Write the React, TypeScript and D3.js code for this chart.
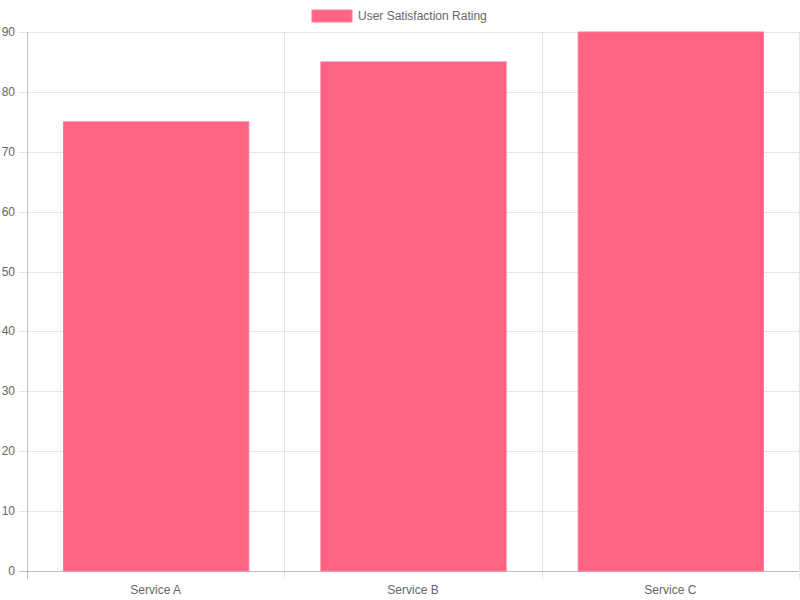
import * as d3 from "d3";

/* ------------------------------------------------------------------ */
/*  Data                                                              */
/* ------------------------------------------------------------------ */

const categories = ["Service A", "Service B", "Service C"];
const ratings = [75, 85, 90];
const seriesLabel = "User Satisfaction Rating";
const yTickValues = [0, 10, 20, 30, 40, 50, 60, 70, 80, 90];

/* ------------------------------------------------------------------ */
/*  Component                                                         */
/* ------------------------------------------------------------------ */

export default function App() {
  const width = 800;
  const height = 600;
  const margin = { top: 32, right: 1, bottom: 29, left: 27 };
  const innerW = width - margin.left - margin.right;
  const innerH = height - margin.top - margin.bottom;

  const font = "'Liberation Sans', Arial, Helvetica, sans-serif";
  const textColor = "#666";
  const gridColor = "rgba(0,0,0,0.1)";
  const barFill = "rgba(255,99,132,1)";
  const barStroke = "rgba(255,120,150,1)";

  const xScale = d3
    .scaleBand<string>()
    .domain(categories)
    .range([0, innerW])
    .paddingInner(0)
    .paddingOuter(0);

  const yScale = d3.scaleLinear().domain([0, 90]).range([innerH, 0]);

  const band = xScale.bandwidth();
  const barW = band * 0.72;

  // vertical grid lines at category edges
  const xEdges = [...categories.map((c) => xScale(c) ?? 0), innerW];

  return (
    <div style={{ position: "absolute", left: 0, top: 0 }}>
      <svg width={width} height={height} style={{ display: "block" }}>
        <rect width={width} height={height} fill="#fff" />

        {/* Legend */}
        <rect x={312} y={10} width={40} height={12} fill={barFill} stroke={barStroke} strokeWidth={1} />
        <text x={358} y={16} dominantBaseline="central" fontFamily={font} fontSize={12} fill={textColor}>
          {seriesLabel}
        </text>

        <g transform={`translate(${margin.left},${margin.top})`}>
          {/* Horizontal grid + y ticks */}
          {yTickValues.map((t) => (
            <g key={`y-${t}`}>
              <line
                x1={-8}
                x2={innerW}
                y1={Math.round(yScale(t)) + 0.5}
                y2={Math.round(yScale(t)) + 0.5}
                stroke={t === 0 ? "rgba(0,0,0,0.25)" : gridColor}
                strokeWidth={1}
              />
              <text
                x={-12}
                y={yScale(t)}
                textAnchor="end"
                dominantBaseline="central"
                fontFamily={font}
                fontSize={12}
                fill={textColor}
              >
                {t}
              </text>
            </g>
          ))}

          {/* Vertical grid */}
          {xEdges.map((x, i) => (
            <line
              key={`x-${i}`}
              x1={Math.round(x) + 0.5}
              x2={Math.round(x) + 0.5}
              y1={0}
              y2={innerH + 8}
              stroke={i === 0 ? "rgba(0,0,0,0.25)" : gridColor}
              strokeWidth={1}
            />
          ))}

          {/* Bars */}
          {categories.map((c, i) => {
            const x0 = (xScale(c) ?? 0) + (band - barW) / 2 + 0.5;
            const y0 = yScale(ratings[i]);
            return (
              <rect
                key={c}
                x={x0}
                y={y0}
                width={barW}
                height={innerH - y0}
                fill={barFill}
                stroke={barStroke}
                strokeWidth={1}
              />
            );
          })}

          {/* X labels */}
          {categories.map((c) => (
            <text
              key={`xl-${c}`}
              x={(xScale(c) ?? 0) + band / 2}
              y={innerH + 19}
              textAnchor="middle"
              dominantBaseline="central"
              fontFamily={font}
              fontSize={12}
              fill={textColor}
            >
              {c}
            </text>
          ))}
        </g>
      </svg>
    </div>
  );
}
